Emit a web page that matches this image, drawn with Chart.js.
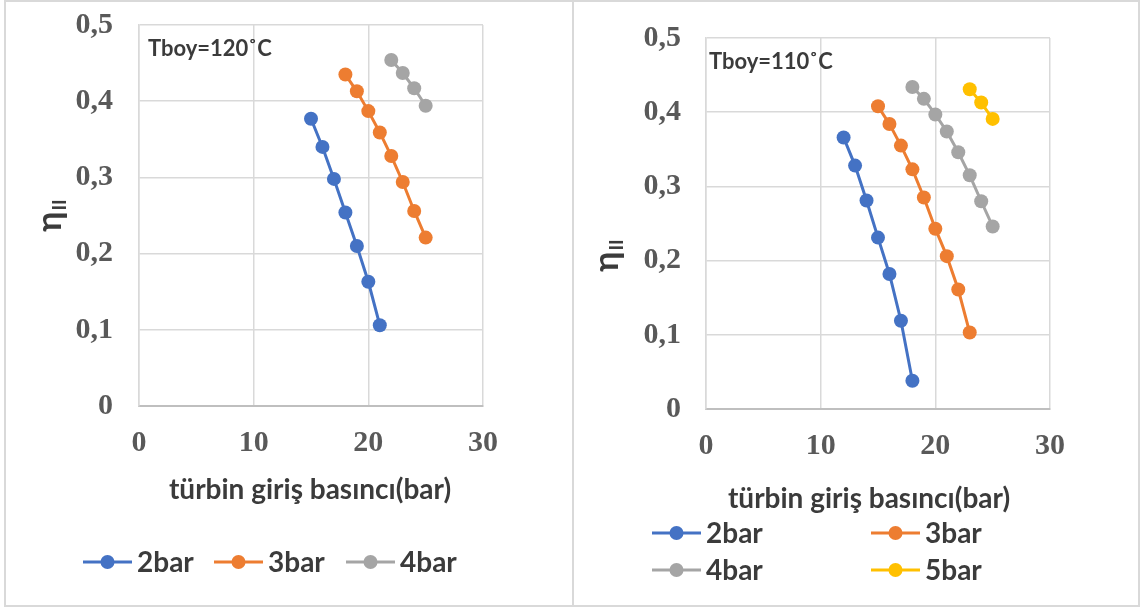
<!DOCTYPE html>
<html>
<head>
<meta charset="utf-8">
<script src="https://cdn.jsdelivr.net/npm/chart.js@4.4.1/dist/chart.umd.min.js"></script>
<style>
  html, body { margin: 0; padding: 0; background: #fff; }
  body { width: 1141px; height: 608px; position: relative; overflow: hidden; }
  canvas { position: absolute; top: 0; }
  #left { left: 0; }
  #right { left: 574px; }
  .frame { position: absolute; left: 4px; top: 0; width: 1136px; height: 607px; box-sizing: border-box; border: 2px solid #d9d9d9; pointer-events: none; }
  .divider { position: absolute; left: 572px; top: 0; width: 2px; height: 607px; background: #d9d9d9; pointer-events: none; }
</style>
</head>
<body>
<canvas id="left" width="572" height="608"></canvas>
<canvas id="right" width="567" height="608"></canvas>
<div class="frame"></div>
<div class="divider"></div>
<script>
// Tboy = 120 °C
const pressL2 = [15, 16, 17, 18, 19, 20, 21];
const effL2 = [0.377, 0.340, 0.298, 0.254, 0.210, 0.163, 0.106];
const pressL3 = [18, 19, 20, 21, 22, 23, 24, 25];
const effL3 = [0.435, 0.413, 0.387, 0.359, 0.328, 0.294, 0.256, 0.221];
const pressL4 = [22, 23, 24, 25];
const effL4 = [0.454, 0.437, 0.417, 0.394];

// Tboy = 110 °C
const pressR2 = [12, 13, 14, 15, 16, 17, 18];
const effR2 = [0.366, 0.328, 0.281, 0.231, 0.182, 0.119, 0.038];
const pressR3 = [15, 16, 17, 18, 19, 20, 21, 22, 23];
const effR3 = [0.408, 0.384, 0.355, 0.323, 0.285, 0.243, 0.206, 0.161, 0.103];
const pressR4 = [18, 19, 20, 21, 22, 23, 24, 25];
const effR4 = [0.434, 0.418, 0.397, 0.374, 0.346, 0.315, 0.280, 0.246];
const pressR5 = [23, 24, 25];
const effR5 = [0.431, 0.413, 0.391];

const seriesNames = ['2bar', '3bar', '4bar', '5bar'];
const seriesColors = ['#4472c4', '#ed7d31', '#a5a5a5', '#ffc000'];
const xTitle = 'türbin giriş basıncı(bar)';
const yTitle = ['η', 'II'];

const pts = (xs, ys) => xs.map((x, i) => ({ x: x, y: ys[i] }));

const makeSet = (i, xs, ys) => ({
  label: seriesNames[i],
  data: pts(xs, ys),
  showLine: true,
  borderColor: seriesColors[i],
  backgroundColor: seriesColors[i],
  borderWidth: 3,
  pointRadius: 7,
  pointHoverRadius: 7,
  pointBorderWidth: 0
});

const SANS = 'Lato, "Noto Sans", sans-serif';
const TEXT = '#3b3b3b';

// titles, annotation and legend drawn at fixed spots, like the Excel layout
const decor = {
  id: 'decor',
  afterDraw(chart, args, o) {
    const ctx = chart.ctx;
    ctx.save();
    // x title
    ctx.fillStyle = TEXT;
    ctx.font = 'bold 28px ' + SANS;
    ctx.textAlign = 'center';
    ctx.textBaseline = 'middle';
    ctx.fillText(xTitle, o.xTitle[0], o.xTitle[1]);
    // y title, rotated, with the II subscript
    ctx.save();
    ctx.translate(o.yTitle[0], o.yTitle[1]);
    ctx.rotate(-Math.PI / 2);
    ctx.textAlign = 'left';
    ctx.textBaseline = 'alphabetic';
    ctx.font = 'bold 34px ' + SANS;
    const w1 = ctx.measureText(yTitle[0]).width;
    ctx.font = 'bold 19px ' + SANS;
    const w2 = ctx.measureText(yTitle[1]).width;
    const x0 = -(w1 + w2) / 2;
    ctx.font = 'bold 34px ' + SANS;
    ctx.fillText(yTitle[0], x0, 0);
    ctx.font = 'bold 19px ' + SANS;
    ctx.fillText(yTitle[1], x0 + w1 + 1, 5);
    ctx.restore();
    // annotation
    ctx.font = 'bold 22px ' + SANS;
    ctx.textAlign = 'left';
    ctx.fillText(o.note, o.notePos[0], o.notePos[1]);
    // legend
    chart.data.datasets.forEach((ds, i) => {
      const [lx, ly] = o.legend[i];
      ctx.strokeStyle = ds.borderColor;
      ctx.lineWidth = 3;
      ctx.beginPath();
      ctx.moveTo(lx, ly);
      ctx.lineTo(lx + 49, ly);
      ctx.stroke();
      ctx.fillStyle = ds.backgroundColor;
      ctx.beginPath();
      ctx.arc(lx + 24.5, ly, 7, 0, Math.PI * 2);
      ctx.fill();
      ctx.fillStyle = TEXT;
      ctx.font = 'bold 28px ' + SANS;
      ctx.textBaseline = 'middle';
      ctx.fillText(ds.label, lx + 54, ly + 1);
    });
    ctx.restore();
  }
};

const fmtY = (v) => v === 0 ? '0' : v.toFixed(1).replace('.', ',');

const makeOptions = (g) => ({
  responsive: false,
  devicePixelRatio: 1,
  animation: false,
  layout: { padding: { left: 0, top: g.top, right: g.right, bottom: 0 } },
  plugins: {
    legend: { display: false },
    tooltip: { enabled: false },
    decor: g.decor
  },
  scales: {
    x: {
      type: 'linear',
      min: 0, max: 30,
      afterFit: (s) => { s.height = g.xHeight; s.paddingLeft = 0; s.paddingRight = 0; },
      ticks: { stepSize: 10, padding: 19, color: '#595959', font: { family: '"Liberation Serif", serif', size: 30, weight: 'bold' } },
      grid: { color: '#d9d9d9', lineWidth: 1.5, drawTicks: false },
      border: { color: '#bfbfbf', width: 2 }
    },
    y: {
      min: 0, max: 0.5,
      afterFit: (s) => { s.width = g.yWidth; s.paddingTop = 0; s.paddingBottom = 0; },
      ticks: { stepSize: 0.1, padding: g.yPad, color: '#595959', callback: fmtY, font: { family: '"Liberation Serif", serif', size: 30, weight: 'bold' } },
      grid: { color: '#d9d9d9', lineWidth: 1.5, drawTicks: false },
      border: { color: '#d9d9d9', width: 1.5 }
    }
  }
});

new Chart(document.getElementById('left'), {
  type: 'scatter',
  data: {
    datasets: [
      makeSet(0, pressL2, effL2),
      makeSet(1, pressL3, effL3),
      makeSet(2, pressL4, effL4)
    ]
  },
  options: makeOptions({
    top: 25, right: 89, xHeight: 202, yWidth: 139, yPad: 26,
    decor: {
      xTitle: [310, 490],
      yTitle: [61, 216],
      note: 'Tboy=120˚C', notePos: [148, 49],
      legend: [[83, 562], [214, 562], [346, 562]]
    }
  }),
  plugins: [decor]
});

new Chart(document.getElementById('right'), {
  type: 'scatter',
  data: {
    datasets: [
      makeSet(0, pressR2, effR2),
      makeSet(1, pressR3, effR3),
      makeSet(2, pressR4, effR4),
      makeSet(3, pressR5, effR5)
    ]
  },
  options: makeOptions({
    top: 38, right: 91, xHeight: 199, yWidth: 132, yPad: 25,
    decor: {
      xTitle: [295, 499],
      yTitle: [44, 256],
      note: 'Tboy=110˚C', notePos: [135, 62],
      legend: [[78, 533], [297, 533], [78, 570], [297, 570]]
    }
  }),
  plugins: [decor]
});
</script>
</body>
</html>
